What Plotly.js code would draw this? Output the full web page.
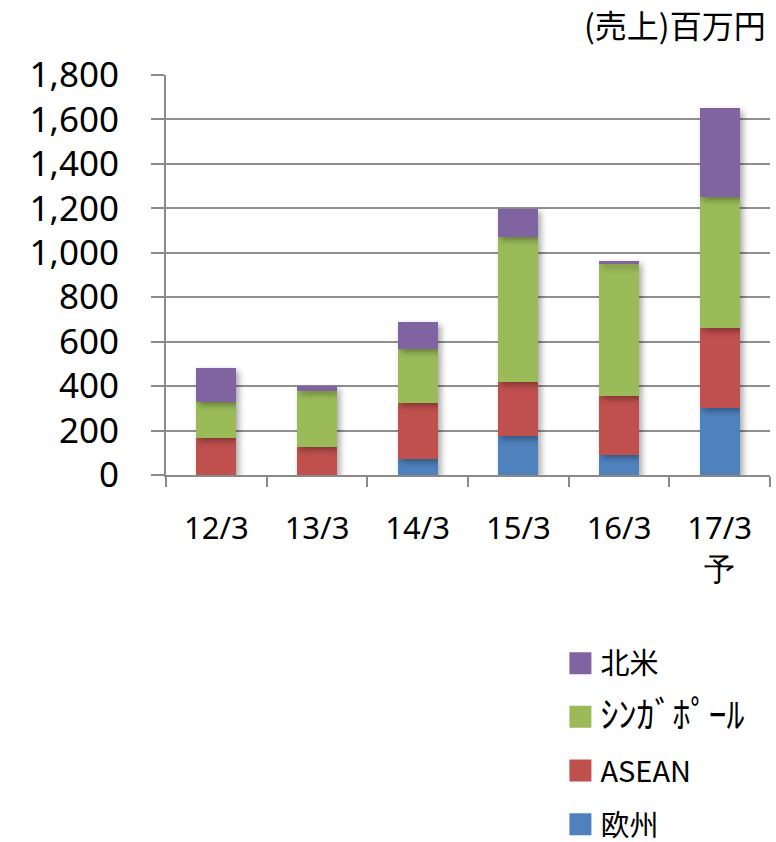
<!DOCTYPE html>
<html>
<head>
<meta charset="utf-8">
<script src="https://cdn.plot.ly/plotly-3.0.1.min.js"></script>
<style>
  html, body { margin: 0; padding: 0; background: #fff; }
  #chart { width: 776px; height: 842px; }
  .trace.bars .point path { filter: drop-shadow(3px 3px 3px rgba(0,0,0,0.35)); }
</style>
</head>
<body>
<div id="chart"></div>
<script>
// Fiscal periods (March year-end); the last one is a forecast
const periods = ['12/3', '13/3', '14/3', '15/3', '16/3', '17/3<br>予'];

// Sales by region, millions of yen (stacked bottom to top)
const europe    = [0,   0,   70,  175, 90,  300];
const asean     = [165, 125, 252, 245, 265, 360];
const singapore = [165, 255, 243, 650, 595, 590];
const northAm   = [150, 20,  125, 125, 15,  400];

const seriesNames  = ['欧州', 'ASEAN', '<span style="font-size:36px">ｼﾝｶﾞﾎﾟｰﾙ</span>', '北米'];
const seriesValues = [europe, asean, singapore, northAm];
const seriesColors = ['#4F81BD', '#C0504D', '#9BBB59', '#8064A2'];
// legend lists the top segment first
const legendRanks  = [4, 3, 2, 1];

const yTicks = [0, 200, 400, 600, 800, 1000, 1200, 1400, 1600, 1800];

const numFont = '"Noto Sans", "DejaVu Sans", sans-serif';
const cjkFont = '"Noto Sans CJK JP", "Noto Sans", sans-serif';

const traces = seriesNames.map((name, i) => ({
  type: 'bar',
  name: name,
  x: periods,
  y: seriesValues[i],
  marker: { color: seriesColors[i], line: { width: 0 } },
  legendgroup: 'g' + i,
  legendrank: legendRanks[i],
  hoverinfo: 'x+y+name'
}));

const layout = {
  width: 776,
  height: 842,
  margin: { l: 166, r: 6, t: 75, b: 367, autoexpand: false },
  paper_bgcolor: '#fff',
  plot_bgcolor: '#fff',
  barmode: 'stack',
  bargap: 0.6,
  showlegend: true,
  legend: {
    x: 0.653, xanchor: 'left',
    y: -0.407, yanchor: 'top',
    traceorder: 'grouped',
    tracegroupgap: 13,
    font: { family: cjkFont, size: 29, color: '#000' },
    itemwidth: 30,
    bgcolor: 'rgba(0,0,0,0)'
  },
  xaxis: {
    type: 'category',
    tickson: 'boundaries',
    ticks: 'outside',
    ticklen: 10,
    tickwidth: 2,
    tickcolor: '#8a8a8a',
    showline: true,
    linecolor: '#8a8a8a',
    linewidth: 2,
    showgrid: false,
    ticklabelstandoff: 25,
    tickfont: { family: numFont, size: 31, color: '#000' },
    fixedrange: true
  },
  yaxis: {
    range: [0, 1800],
    tickvals: yTicks,
    ticktext: yTicks.map(v => v.toLocaleString('en-US')),
    ticks: 'outside',
    ticklen: 13,
    tickwidth: 2,
    tickcolor: '#8a8a8a',
    showline: true,
    linecolor: '#8a8a8a',
    linewidth: 2,
    showgrid: true,
    gridcolor: '#8f8f8f',
    gridwidth: 2,
    zeroline: false,
    ticklabelstandoff: 25,
    tickfont: { family: numFont, size: 35, color: '#000' },
    fixedrange: true
  },
  annotations: [{
    text: '(売上)百万円',
    xref: 'paper', yref: 'paper',
    x: 1, xanchor: 'right', xshift: -2,
    y: 1, yanchor: 'bottom', yshift: 26,
    showarrow: false,
    font: { family: cjkFont, size: 32, color: '#000' }
  }]
};

Plotly.newPlot('chart', traces, layout, { staticPlot: true }).then(gd => {
  // enlarge the legend swatches to square blocks
  gd.querySelectorAll('.legend .legendpoints path').forEach(p => {
    p.setAttribute('d', 'M11,11H-11V-11H11Z');
  });
});
</script>
</body>
</html>
